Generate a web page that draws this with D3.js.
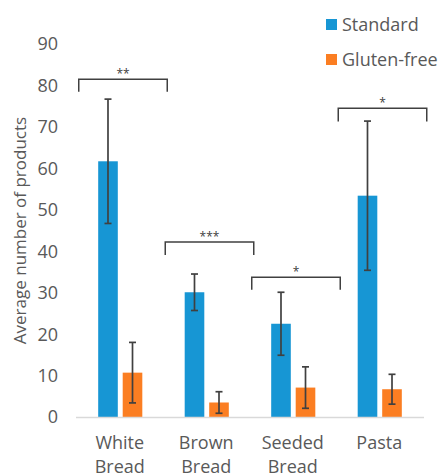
<!DOCTYPE html>
<html><head><meta charset="utf-8">
<script src="https://cdn.jsdelivr.net/npm/d3@7"></script>
<style>
html,body{margin:0;padding:0;background:#fff;}
svg{display:block;font-family:"Open Sans",sans-serif;}
</style></head>
<body>
<svg id="chart" width="438" height="473"></svg>
<script>
const categories = ["White Bread","Brown Bread","Seeded Bread","Pasta"];
const seriesNames = ["Standard","Gluten-free"];
const standardValues = [61.7, 30.1, 22.5, 53.4];
const standardErrors = [15.0, 4.4, 7.6, 18.0];
const glutenFreeValues = [10.7, 3.5, 7.1, 6.7];
const glutenFreeErrors = [7.3, 2.6, 5.0, 3.6];
const yTicks = [0,10,20,30,40,50,60,70,80,90];
const sigLabels = ["**","***","*","*"];
const sigTop = [81.5, 42.2, 33.7, 74.5];
const sigLeg = [78.5, 39.1, 30.7, 71.3];
const colors = ["#1796d4","#fb7e22"];

const svg = d3.select("#chart");
const y = d3.scaleLinear().domain([0,90]).range([417,44]);
const x0 = d3.scaleBand().domain(categories).range([77,423]).paddingInner(0.49).paddingOuter(0.245);
const x1 = d3.scaleBand().domain(seriesNames).range([0,x0.bandwidth()]).paddingInner(0.2);

const rows = categories.map((c,i)=>({cat:c, vals:[
  {s:seriesNames[0], v:standardValues[i], e:standardErrors[i]},
  {s:seriesNames[1], v:glutenFreeValues[i], e:glutenFreeErrors[i]}]}));

// y tick labels
svg.append("g").selectAll("text").data(yTicks).join("text")
  .attr("x",58).attr("y",d=>y(d)).attr("dy","0.36em")
  .attr("text-anchor","end").attr("font-size",18).attr("fill","#595959")
  .text(d=>d);

// y axis title
svg.append("text").attr("transform","translate(26,230.5) rotate(-90)")
  .attr("text-anchor","middle").attr("font-size",17).attr("fill","#595959")
  .text("Average number of products");

// bars
const g = svg.append("g").selectAll("g").data(rows).join("g")
  .attr("transform",d=>`translate(${x0(d.cat)},0)`);
g.selectAll("rect").data(d=>d.vals).join("rect")
  .attr("x",d=>x1(d.s)).attr("width",x1.bandwidth())
  .attr("y",d=>y(d.v)).attr("height",d=>y(0)-y(d.v))
  .attr("fill",(d,i)=>colors[i]);

// error bars
const eb = g.selectAll("g.err").data(d=>d.vals).join("g").attr("class","err");
eb.append("line")
  .attr("x1",d=>x1(d.s)+x1.bandwidth()/2).attr("x2",d=>x1(d.s)+x1.bandwidth()/2)
  .attr("y1",d=>y(d.v+d.e)).attr("y2",d=>y(d.v-d.e))
  .attr("stroke","#404040").attr("stroke-width",1.7);
["hi","lo"].forEach(k=>{
  eb.append("line")
    .attr("x1",d=>x1(d.s)+x1.bandwidth()/2-3.5).attr("x2",d=>x1(d.s)+x1.bandwidth()/2+3.5)
    .attr("y1",d=>y(k==="hi"?d.v+d.e:d.v-d.e)).attr("y2",d=>y(k==="hi"?d.v+d.e:d.v-d.e))
    .attr("stroke","#404040").attr("stroke-width",1.7);
});

// x axis line
svg.append("line").attr("x1",76).attr("x2",424).attr("y1",y(0)+0.5).attr("y2",y(0)+0.5)
  .attr("stroke","#d9d9d9").attr("stroke-width",1.5);

// x labels
svg.append("g").selectAll("text").data(categories).join("text")
  .attr("y",449)
  .attr("text-anchor","middle").attr("font-size",18).attr("fill","#595959")
  .each(function(d){
    const words=d.split(" ");
    const cx = x0(d)+x0.bandwidth()/2-0.5;
    d3.select(this).selectAll("tspan").data(words).join("tspan")
      .attr("x",cx).attr("dy",(w,i)=>i?23.5:0).text(w=>w);
  });

// significance brackets
const bg = svg.append("g").selectAll("g").data(categories).join("g");
bg.append("path")
  .attr("d",(d,i)=>{
    const c=x0(d)+x0.bandwidth()/2, a=c-41.5, b=c+47;
    return `M${a},${y(sigLeg[i])}V${y(sigTop[i])}H${b}V${y(sigLeg[i])}`;
  })
  .attr("fill","none").attr("stroke","#404040").attr("stroke-width",1.5);
bg.append("text")
  .attr("x",d=>x0(d)+x0.bandwidth()/2+2.75)
  .attr("y",(d,i)=>y(sigTop[i])-1.5)
  .attr("text-anchor","middle").attr("font-size",12).attr("fill","#404040")
  .text((d,i)=>sigLabels[i]);

// legend
const lg = svg.append("g").selectAll("g").data(seriesNames).join("g")
  .attr("transform",(d,i)=>`translate(326,${19+i*35})`);
lg.append("rect").attr("width",11).attr("height",11).attr("fill",(d,i)=>colors[i]);
lg.append("text").attr("x",16).attr("y",11.5).attr("font-size",18).attr("fill","#595959").text(d=>d);
</script>
</body></html>
